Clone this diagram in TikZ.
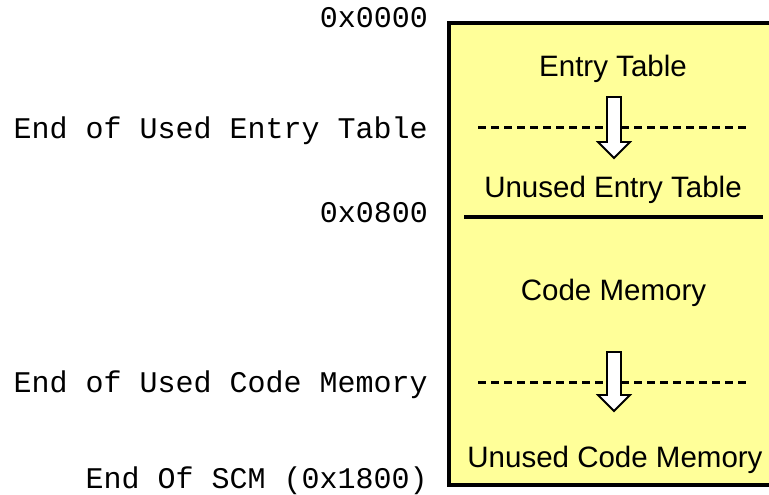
\documentclass[tikz,border=0pt]{standalone}
\usepackage{fontspec}
\setmainfont{Liberation Sans}
\newfontfamily\monofnt{Liberation Mono}
\definecolor{memyellow}{HTML}{FFFF99}
\tikzset{
  addr/.style={anchor=base east, inner sep=0pt, font=\monofnt\fontsize{30}{36}\selectfont},
  region/.style={anchor=base, inner sep=0pt, font=\fontsize{29.5}{35}\selectfont},
  growarrow/.style={draw=black, fill=white, line width=1.8pt, line join=miter},
  divider/.style={line width=3.2pt},
  usedline/.style={line width=3pt, dash pattern=on 8pt off 5pt}
}
\begin{document}
\begin{tikzpicture}[x=1pt,y=-1pt]
\useasboundingbox (0,0) rectangle (769,495);
\clip (0,0) rectangle (769,495);
% memory block
\draw[fill=memyellow, line width=4pt] (449,23) rectangle (800,484.5);
% region labels
\node[region] (et)  at (613,77)  {Entry Table};
\node[region] (uet) at (613,197) {Unused Entry Table};
\node[region] (cm)  at (613.5,300) {Code Memory};
\node[region] (ucm) at (615,467) {Unused Code Memory};
% dividers
\draw[usedline] (478,127.5) -- (748,127.5);
\draw[divider] (464,217) -- (763,217);
\draw[usedline] (478,382) -- (748,382);
% growth arrows
\draw[growarrow] (607,97) -- (621,97) -- (621,142) -- (630,142) -- (614,158)
  -- (598,142) -- (607,142) -- cycle;
\draw[growarrow] (607,352) -- (621,352) -- (621,395) -- (630,395) -- (614,411)
  -- (598,395) -- (607,395) -- cycle;
% address labels
\node[addr] (a0)  at (428,28)  {0x0000};
\node[addr] (a1)  at (428,138) {End of Used Entry Table};
\node[addr] (a2)  at (428,222) {0x0800};
\node[addr] (a3)  at (428,392) {End of Used Code Memory};
\node[addr] (a4)  at (428,488) {End Of SCM (0x1800)};
\end{tikzpicture}
\end{document}
